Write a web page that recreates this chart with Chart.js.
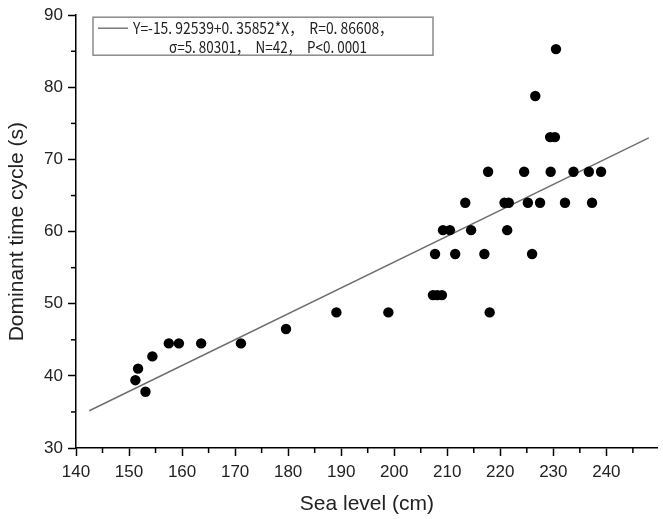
<!DOCTYPE html>
<html>
<head>
<meta charset="utf-8">
<script src="https://cdn.jsdelivr.net/npm/chart.js@4/dist/chart.umd.min.js"></script>
<style>
html,body{margin:0;padding:0;background:#fff;}
#wrap{width:663px;height:519px;}
</style>
</head>
<body>
<div id="wrap"><canvas id="c" width="663" height="519"></canvas></div>
<script>
// ---- data ----
const seaLevel = [151.2,151.7,153.1,154.4,157.5,159.4,163.6,171.1,179.6,189.1,198.9,
  207.3,208.1,209.0,218.0,
  207.7,211.5,217.0,226.0,
  209.2,210.5,214.5,221.3,
  213.4,220.8,221.6,225.2,227.5,232.2,237.3,
  217.7,224.5,229.5,233.8,236.7,239.0,
  229.4,230.3,226.6,230.5];
const cycle = [39.4,41.0,37.8,42.7,44.5,44.5,44.5,44.5,46.5,48.8,48.8,
  51.2,51.2,51.2,48.8,
  56.9,56.9,56.9,56.9,
  60.2,60.2,60.2,60.2,
  64.0,64.0,64.0,64.0,64.0,64.0,64.0,
  68.3,68.3,68.3,68.3,68.3,68.3,
  73.1,73.1,78.8,85.3];
const fitIntercept = -15.92539;
const fitSlope = 0.35852;
const fitRange = [142.5, 248];
const xTicks = [140,145,150,155,160,165,170,175,180,185,190,195,200,205,210,215,220,225,230,235,240,245];
const yTicks = [30,35,40,45,50,55,60,65,70,75,80,85,90];
const legendLines = ["Y=-15. 92539+0. 35852*X，  R=0. 86608，", "σ=5. 80301，  N=42，  P<0. 0001"];
const xTitle = "Sea level (cm)";
const yTitle = "Dominant time cycle (s)";

const points = seaLevel.map((x,i)=>({x:x, y:cycle[i]}));
const fitPts = fitRange.map(x=>({x:x, y:fitIntercept + fitSlope*x}));

const tickFont = {family:"'Liberation Sans', Arial, sans-serif", size:17};
const titleFont = {family:"'Liberation Sans', Arial, sans-serif", size:21};

const minorTicks = {
  id:'minorTicks',
  afterDraw(chart){
    const ctx = chart.ctx;
    ctx.save();
    ctx.strokeStyle = '#000';
    ctx.lineWidth = 1.5;
    const xs = chart.scales.x, ys = chart.scales.y;
    xTicks.filter(v=>v%10!==0).forEach(v=>{
      const px = xs.getPixelForValue(v);
      ctx.beginPath(); ctx.moveTo(px, xs.top); ctx.lineTo(px, xs.top+5); ctx.stroke();
    });
    yTicks.filter(v=>v%10!==0).forEach(v=>{
      const py = ys.getPixelForValue(v);
      ctx.beginPath(); ctx.moveTo(ys.right, py); ctx.lineTo(ys.right-5, py); ctx.stroke();
    });
    ctx.restore();
  }
};

const legendBox = {
  id:'legendBox',
  afterDraw(chart){
    const ctx = chart.ctx, a = chart.chartArea;
    const left = a.left + 17, top = a.top + 2, w = 340, h = 38;
    ctx.save();
    ctx.strokeStyle = '#8a8a8a';
    ctx.lineWidth = 1.5;
    ctx.strokeRect(left, top, w, h);
    ctx.strokeStyle = '#707070';
    ctx.lineWidth = 1.4;
    ctx.beginPath(); ctx.moveTo(left+5, top+11); ctx.lineTo(left+35, top+11); ctx.stroke();
    ctx.fillStyle = '#222';
    ctx.textBaseline = 'middle';
    ctx.textAlign = 'left';
    ctx.font = "16px 'Noto Sans CJK JP', sans-serif";
    const m1 = ctx.measureText(legendLines[0]).width;
    const m2 = ctx.measureText(legendLines[1]).width;
    const s1 = 260 / m1, s2 = 198 / m2;
    ctx.save();
    ctx.translate(left+40, top+11);
    ctx.scale(s1, 1);
    ctx.fillText(legendLines[0], 0, 0);
    ctx.restore();
    ctx.save();
    ctx.translate(left+76, top+30);
    ctx.scale(s2, 1);
    ctx.fillText(legendLines[1], 0, 0);
    ctx.restore();
    ctx.restore();
  }
};

new Chart(document.getElementById('c'), {
  type:'scatter',
  data:{
    datasets:[
      {label:'fit', type:'line', data:fitPts, borderColor:'#6e6e6e', borderWidth:1.4, pointRadius:0, fill:false, order:2},
      {label:'data', data:points, backgroundColor:'#000', borderColor:'#000', pointRadius:5.2, pointBorderWidth:0, order:1}
    ]
  },
  options:{
    responsive:false,
    animation:false,
    events:[],
    layout:{padding:{top:15, right:0, left:0, bottom:0}},
    plugins:{legend:{display:false}, tooltip:{enabled:false}},
    scales:{
      x:{
        type:'linear', min:140, max:249.7,
        afterBuildTicks(s){ s.ticks = xTicks.map(v=>({value:v})); },
        afterFit(s){ s.height = 71; },
        border:{color:'#000', width:1.5},
        grid:{display:true, drawOnChartArea:false, drawTicks:true, tickLength:8, tickWidth:1.5,
              tickColor:(c)=> (c.tick && c.tick.value%10===0) ? '#000' : 'rgba(0,0,0,0)'},
        ticks:{color:'#222', font:tickFont, padding:6, maxRotation:0, autoSkip:false,
               callback:(v)=> v%10===0 ? String(v) : ''},
        title:{display:true, text:xTitle, color:'#222', font:titleFont, padding:{top:0,bottom:2}}
      },
      y:{
        type:'linear', min:30, max:90,
        afterBuildTicks(s){ s.ticks = yTicks.map(v=>({value:v})); },
        afterFit(s){ s.width = 76; },
        border:{color:'#000', width:1.5},
        grid:{display:true, drawOnChartArea:false, drawTicks:true, tickLength:8, tickWidth:1.5,
              tickColor:(c)=> (c.tick && c.tick.value%10===0) ? '#000' : 'rgba(0,0,0,0)'},
        ticks:{color:'#222', font:tickFont, padding:5, autoSkip:false,
               callback:(v)=> v%10===0 ? String(v) : ''},
        title:{display:true, text:yTitle, color:'#222', font:titleFont, padding:{top:5,bottom:0}}
      }
    }
  },
  plugins:[minorTicks, legendBox]
});
</script>
</body>
</html>
